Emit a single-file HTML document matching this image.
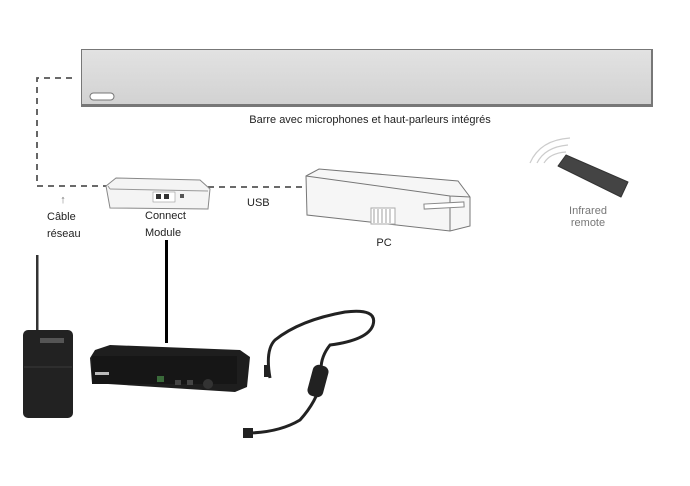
<!DOCTYPE html>
<html><head><meta charset="utf-8"><style>
html,body{margin:0;padding:0;background:#fff;}
svg{display:block;font-family:"Liberation Sans",sans-serif;}
</style></head><body>
<svg width="690" height="486" viewBox="0 0 690 486" xmlns="http://www.w3.org/2000/svg">
<defs>
<linearGradient id="bar" x1="0" y1="0" x2="0" y2="1"><stop offset="0" stop-color="#e2e2e2"/><stop offset="1" stop-color="#d2d2d2"/></linearGradient>
</defs>
<rect x="81" y="49" width="572" height="58" fill="#777"/>
<rect x="82" y="50" width="569" height="54" fill="url(#bar)"/>
<rect x="90" y="93" width="24" height="7" rx="3.5" fill="#fff" stroke="#777" stroke-width="1"/>
<text x="370" y="123" font-size="11" text-anchor="middle" fill="#222">Barre avec microphones et haut-parleurs intégrés</text>
<path d="M72 78 H37 V186 H108" fill="none" stroke="#555" stroke-width="1.8" stroke-dasharray="6,5"/>
<path d="M208 187 H306" fill="none" stroke="#555" stroke-width="1.8" stroke-dasharray="6,5"/>
<polygon points="106,186 116,178 200,180 210,189 208,209 110,208" fill="#f4f4f4" stroke="#888"/>
<line x1="110" y1="189" x2="208" y2="191" stroke="#999"/>
<line x1="108" y1="186" x2="110" y2="189" stroke="#999"/>
<rect x="153" y="192" width="22" height="10" fill="#fff" stroke="#999" stroke-width=".6"/>
<rect x="156" y="194" width="5" height="5" fill="#333"/><rect x="164" y="194" width="5" height="5" fill="#333"/>
<rect x="180" y="194" width="4" height="4" fill="#555"/>
<text x="247" y="206" font-size="11" fill="#222">USB</text>
<text x="63" y="203" font-size="11" fill="#777" text-anchor="middle">↑</text>
<text x="47" y="220" font-size="11" fill="#222">Câble</text>
<text x="47" y="237" font-size="11" fill="#222">réseau</text>
<text x="145" y="219" font-size="11" fill="#222">Connect</text>
<text x="145" y="236" font-size="11" fill="#222">Module</text>
<polygon points="306,176 319,169 458,181 470,197 470,226 450,231 307,215" fill="#f6f6f6" stroke="#777"/>
<polyline points="306,176 450,196 470,197" fill="none" stroke="#777"/>
<line x1="450" y1="196" x2="450" y2="231" stroke="#777"/>
<rect x="371" y="208" width="24" height="16" fill="#fff" stroke="#aaa"/>
<g stroke="#888" stroke-width=".8"><line x1="374" y1="209" x2="374" y2="223"/><line x1="378" y1="209" x2="378" y2="223"/><line x1="382" y1="209" x2="382" y2="223"/><line x1="386" y1="209" x2="386" y2="223"/><line x1="390" y1="209" x2="390" y2="223"/></g>
<rect x="424" y="203" width="40" height="5" fill="#fff" stroke="#888" transform="rotate(-3 444 205)"/>
<text x="384" y="246" font-size="11" fill="#222" text-anchor="middle">PC</text>
<g fill="none" stroke="#ccc" stroke-width="1.2">
<path d="M530 163 Q540 140 570 138"/><path d="M537 163 Q545 147 568 145"/><path d="M544 163 Q550 153 566 152"/>
</g>
<polygon points="558,166 566,155 628,182 621,197" fill="#444" stroke="#333" stroke-linejoin="round"/>
<text x="588" y="214" font-size="11" fill="#777" text-anchor="middle">Infrared</text>
<text x="588" y="226" font-size="11" fill="#777" text-anchor="middle">remote</text>
<rect x="165" y="240" width="3" height="103" fill="#000"/>
<rect x="36" y="255" width="2.5" height="75" fill="#333"/>
<rect x="23" y="330" width="50" height="88" rx="5" fill="#222"/>
<rect x="40" y="338" width="24" height="5" fill="#555"/>
<line x1="24" y1="367" x2="72" y2="367" stroke="#3a3a3a"/>
<polygon points="95,350 110,345 240,350 250,357 247,387 235,392 92,383 90,358" fill="#1e1e1e"/>
<rect x="92" y="356" width="145" height="28" fill="#161616"/>
<rect x="95" y="372" width="14" height="3" fill="#bbb"/>
<rect x="157" y="376" width="7" height="6" fill="#3a6a3a"/>
<rect x="175" y="380" width="6" height="5" fill="#444"/><rect x="187" y="380" width="6" height="5" fill="#444"/>
<circle cx="208" cy="384" r="5" fill="#333"/>
<path d="M270 378 Q265 350 275 340 Q300 320 345 312 Q378 308 373 325 Q368 340 330 345 Q318 360 322 378 Q318 400 300 420 Q280 432 250 433" fill="none" stroke="#222" stroke-width="3"/>
<rect x="310" y="365" width="16" height="32" rx="6" fill="#222" transform="rotate(15 318 381)"/>
<rect x="243" y="428" width="10" height="10" fill="#222"/>
<rect x="264" y="365" width="5" height="12" fill="#222"/>
</svg>
</body></html>
